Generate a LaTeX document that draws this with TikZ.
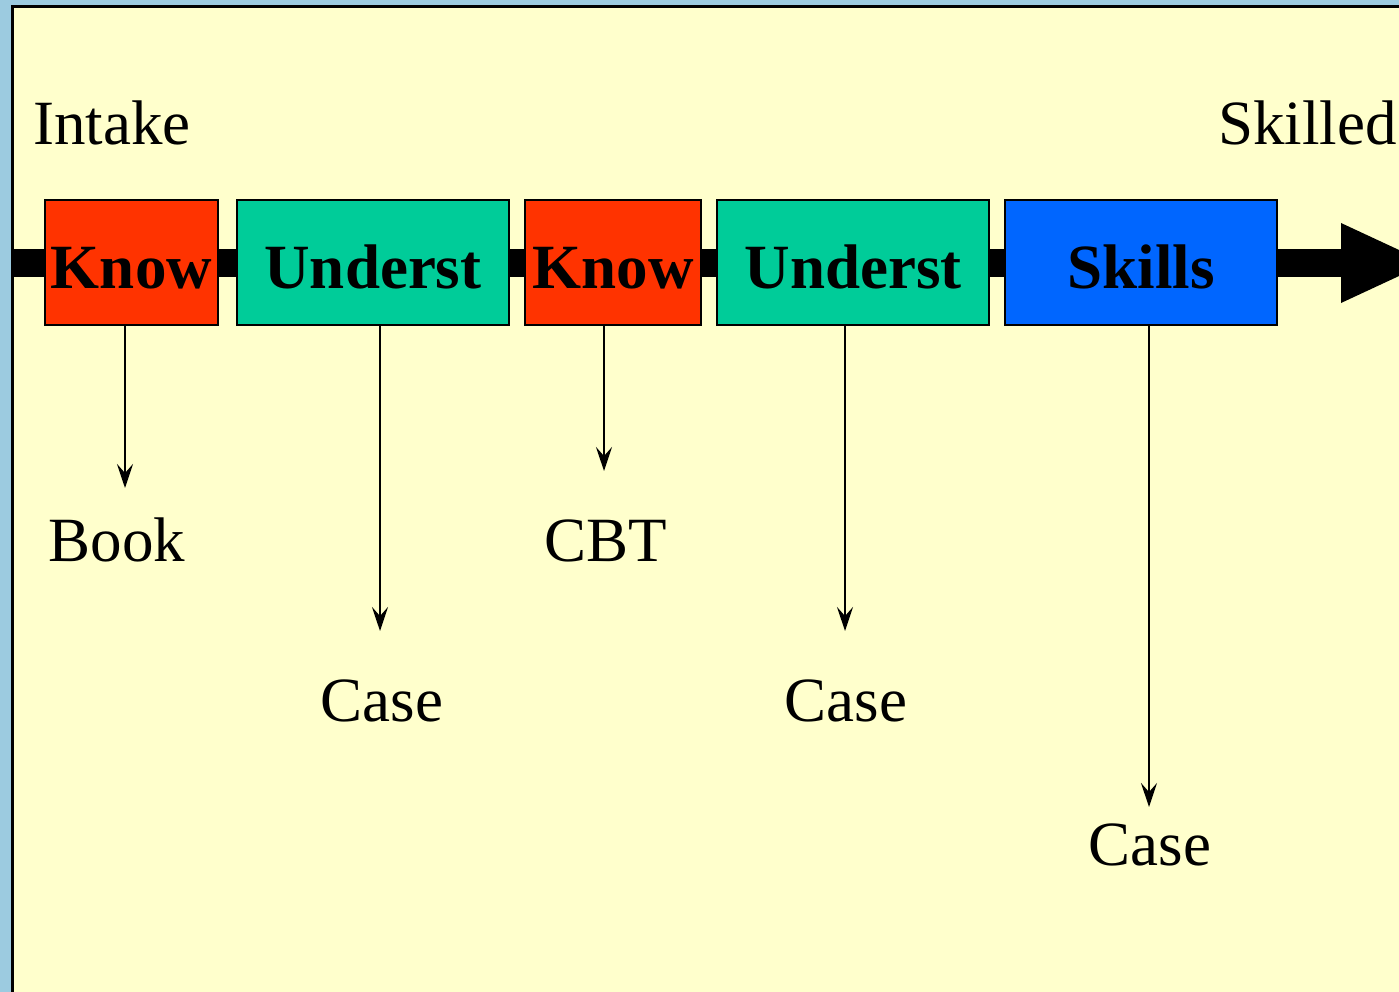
\documentclass[tikz,border=0pt]{standalone}
\usepackage{fontspec}
\setmainfont{Liberation Serif}
\usetikzlibrary{arrows.meta}

\definecolor{paper}{HTML}{FFFFCC}
\definecolor{knowred}{HTML}{FF3300}
\definecolor{undgreen}{HTML}{00CC99}
\definecolor{skillblue}{HTML}{0066FF}
\definecolor{photo}{HTML}{9CCBE0}

\begin{document}
\begin{tikzpicture}[x=1pt,y=-1pt]
\tikzstyle{stage}=[draw=black, line width=2pt, minimum height=125pt, inner sep=0pt,
	text height=51pt, text depth=0pt, font=\fontsize{63}{70}\selectfont\bfseries]
\tikzstyle{word}=[anchor=base, inner sep=0pt, font=\fontsize{63}{70}\selectfont]
\tikzstyle{down}=[-{Stealth[length=24pt,width=16pt,inset=9pt]}, line width=2.2pt]
\useasboundingbox (0,0) rectangle (1399,992);
\clip (0,0) rectangle (1399,992);
\fill[photo] (0,0) rectangle (1399,992);
\filldraw[fill=paper, draw=black, line width=3pt] (12,7) rectangle (1420,1010);

% the time line
\draw[line width=27pt] (12,263) -- (1342,263);
\fill (1341,223) -- (1427,263) -- (1341,303) -- cycle;

\node[word, anchor=base west] (intake) at (33,145) {Intake};
\node[word, anchor=base west] (skilled) at (1218,145) {Skilled};

\node[stage, fill=knowred, minimum width=173pt] (know1) at (131.5,262.5) {Know};
\node[stage, fill=undgreen, minimum width=272pt] (under1) at (373,262.5) {Underst};
\node[stage, fill=knowred, minimum width=176pt] (know2) at (613,262.5) {Know};
\node[stage, fill=undgreen, minimum width=272pt] (under2) at (853,262.5) {Underst};
\node[stage, fill=skillblue, minimum width=272pt] (skills) at (1141,262.5) {Skills};

\node[word] (book) at (117,561) {Book};
\node[word] (case1) at (382,721) {Case};
\node[word] (cbt) at (606,561) {CBT};
\node[word] (case2) at (846,721) {Case};
\node[word] (case3) at (1150,865) {Case};

\coordinate (tobook) at (125,488);
\coordinate (tocase1) at (380,631);
\coordinate (tocbt) at (604,471);
\coordinate (tocase2) at (845,631);
\coordinate (tocase3) at (1149,807);

\draw[down] (tobook |- know1.south) -- (tobook);
\draw[down] (tocase1 |- under1.south) -- (tocase1);
\draw[down] (tocbt |- know2.south) -- (tocbt);
\draw[down] (tocase2 |- under2.south) -- (tocase2);
\draw[down] (tocase3 |- skills.south) -- (tocase3);

\end{tikzpicture}
\end{document}
